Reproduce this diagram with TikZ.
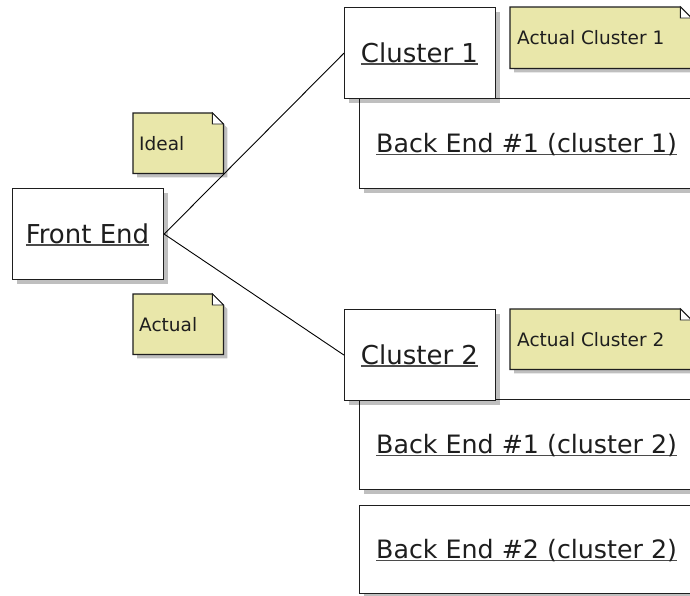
\documentclass[tikz,border=0pt]{standalone}
\usepackage{fontspec}
\setmainfont{DejaVu Sans}
\usetikzlibrary{shadows}
\definecolor{notefill}{RGB}{233,231,170}
\definecolor{inkcol}{RGB}{30,30,30}
% underline at a fixed depth, independent of descenders
\newcommand\ulined[1]{\setbox0\hbox{#1}\rlap{\color{inkcol!80}\rule[-2.8pt]{\wd0}{1.4pt}}\box0}
\begin{document}
\begin{tikzpicture}[x=1pt,y=-1pt,
  shade/.style={drop shadow={shadow xshift=4pt, shadow yshift=-4pt, opacity=0.25, fill=black}},
  box/.style={rectangle, draw=inkcol, line width=1.2pt, fill=white, inner sep=0, anchor=north west, shade},
  frame/.style={rectangle, inner sep=0, anchor=north west},
  notepath/.style={draw=inkcol, line width=1.2pt, fill=notefill, line join=miter, shade},
  foldpath/.style={draw=inkcol, line width=0.9pt, fill=white},
  big/.style={font=\fontsize{26}{30}\selectfont, text=inkcol, inner sep=0, anchor=base},
  wide/.style={font=\fontsize{25.3}{30}\selectfont, text=inkcol, inner sep=0, anchor=base west},
  small/.style={font=\fontsize{18.5}{22}\selectfont, text=inkcol, inner sep=0, anchor=base west},
  link/.style={draw=black, line width=0.9pt}]
\clip (0,0) rectangle (690,595);
\fill[white] (0,0) rectangle (690,595);

% back ends (drawn first, clusters sit on top of them)
\node[box, minimum width=360, minimum height=90] (be1c1) at (359,98) {};
\node[wide] (be1c1t) at (376,152.4) {\ulined{Back End \#1 (cluster 1)}};
\node[box, minimum width=360, minimum height=90] (be1c2) at (359,399) {};
\node[wide] (be1c2t) at (376,453.4) {\ulined{Back End \#1 (cluster 2)}};
\node[box, minimum width=360, minimum height=88] (be2c2) at (359,505) {};
\node[wide] (be2c2t) at (376,558.4) {\ulined{Back End \#2 (cluster 2)}};

% front end and clusters
\node[box, minimum width=151, minimum height=91] (fe) at (12,188) {};
\node[big] (fet) at (87.5,243) {\ulined{Front End}};
\node[box, minimum width=151, minimum height=91] (c1) at (344,7) {};
\node[big] (c1t) at (419.5,62) {\ulined{Cluster 1}};
\node[box, minimum width=151, minimum height=91] (c2) at (344,309) {};
\node[big] (c2t) at (419.5,364) {\ulined{Cluster 2}};

% notes with a folded corner
\node[frame, minimum width=90, minimum height=60] (ideal) at (133,113) {};
\node[frame, minimum width=90, minimum height=60] (actual) at (133,294) {};
\node[frame, minimum width=181, minimum height=61] (ac1) at (510,7) {};
\node[frame, minimum width=181, minimum height=60] (ac2) at (510,309) {};
\foreach \n in {ideal,actual,ac1,ac2}{
  \path[notepath] (\n.north west) -- ([xshift=-11pt]\n.north east)
     -- ([yshift=-11pt]\n.north east) -- (\n.south east) -- (\n.south west) -- cycle;
  \path[foldpath] ([xshift=-11pt]\n.north east) |- ([yshift=-11pt]\n.north east) -- cycle;
}
\node[small] (idealt) at (139,150) {Ideal};
\node[small] (actualt) at (139,331) {Actual};
\node[small] (ac1t) at (517,44) {Actual Cluster 1};
\node[small] (ac2t) at (517,346) {Actual Cluster 2};

% connectors
\path[link] (fe.east) -- (c1.west);
\path[link] (fe.east) -- (c2.west);
\end{tikzpicture}
\end{document}
